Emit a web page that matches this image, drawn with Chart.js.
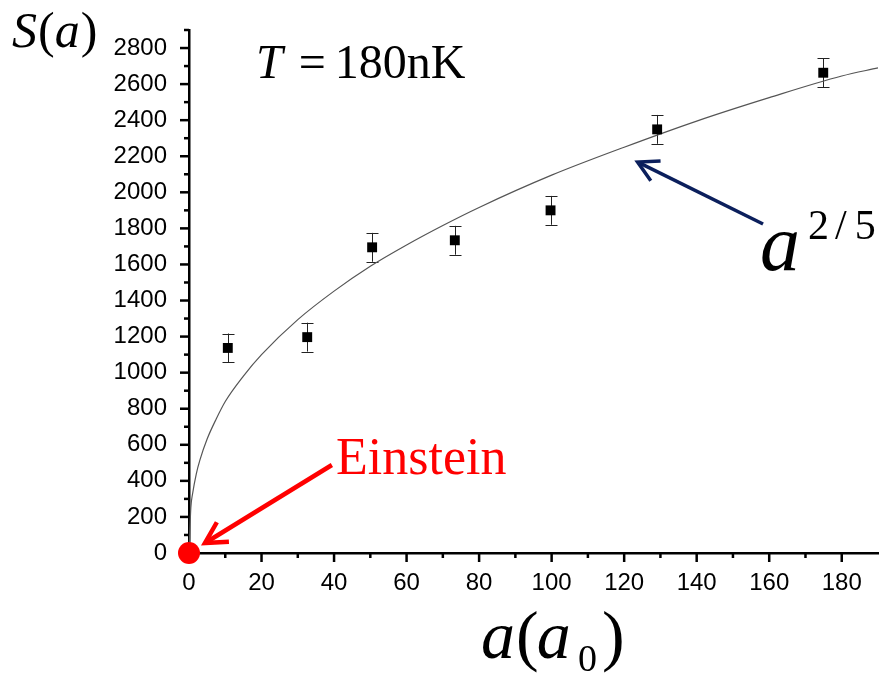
<!DOCTYPE html>
<html>
<head>
<meta charset="utf-8">
<script src="https://cdn.jsdelivr.net/npm/chart.js@4/dist/chart.umd.min.js"></script>
<style>
  html, body { margin: 0; padding: 0; background: #fff; }
  #wrap { width: 881px; height: 673px; }
</style>
</head>
<body>
<div id="wrap"><canvas id="scatteringChart" width="881" height="673"></canvas></div>
<script>
// ============================================================================
// S(a) vs scattering length a (in units of a0), T = 180 nK
// ============================================================================

// Measured points
const scatLength = [10.7, 32.6, 50.5, 73.3, 99.7, 129.1, 174.9];
const entropyS   = [1137, 1197, 1695, 1734, 1900, 2349, 2663];
const entropyErr = [80, 80, 80, 80, 80, 80, 80];

// a^(2/5) curve, read along its length
const curveA = [0, 0.5, 1, 2, 3, 5, 7.5, 10, 15, 20, 30, 40, 50, 60, 70, 80, 100, 120, 140, 160, 180, 190];
const curveS = [0, 250, 330, 438, 515, 632, 743, 840, 981, 1100, 1294, 1452, 1590, 1708, 1816, 1916, 2095, 2250, 2395, 2525, 2645, 2690];

// Einstein (ideal gas) point
const einsteinA = [0];
const einsteinS = [0];

// Axis ticks
const xTickValues = [0, 20, 40, 60, 80, 100, 120, 140, 160, 180];
const yTickValues = [0, 200, 400, 600, 800, 1000, 1200, 1400, 1600, 1800, 2000, 2200, 2400, 2600, 2800];
const X_MAX = 190;
const Y_MAX = 2900;

const SERIF = '"Liberation Serif", "Times New Roman", serif';
const SANS = '"Liberation Sans", Arial, sans-serif';

function toXY(xs, ys) {
    return xs.map((x, i) => ({ x: x, y: ys[i] }));
}

// error bars under the square markers
const errorBars = {
    id: 'errorBars',
    beforeDatasetsDraw(chart) {
        const { ctx, scales: { x, y } } = chart;
        ctx.save();
        ctx.strokeStyle = '#222';
        ctx.lineWidth = 1;
        scatLength.forEach((a, i) => {
            const px = Math.round(x.getPixelForValue(a)) + 0.5;
            const top = y.getPixelForValue(entropyS[i] + entropyErr[i]);
            const bot = y.getPixelForValue(entropyS[i] - entropyErr[i]);
            ctx.beginPath();
            ctx.moveTo(px, top); ctx.lineTo(px, bot);
            ctx.moveTo(px - 6, Math.round(top) + 0.5); ctx.lineTo(px + 6, Math.round(top) + 0.5);
            ctx.moveTo(px - 6, Math.round(bot) + 0.5); ctx.lineTo(px + 6, Math.round(bot) + 0.5);
            ctx.stroke();
        });
        ctx.restore();
    }
};

// outward tick marks, major on labels and minor halfway between
const tickMarks = {
    id: 'tickMarks',
    beforeDatasetsDraw(chart) {
        const { ctx, scales: { x, y } } = chart;
        ctx.save();
        ctx.strokeStyle = '#000';
        ctx.lineWidth = 2.5;
        const yAxis = y.left + y.width;
        yTickValues.forEach(v => {
            const py = y.getPixelForValue(v);
            ctx.beginPath(); ctx.moveTo(yAxis - 9, py); ctx.lineTo(yAxis, py); ctx.stroke();
            const pm = y.getPixelForValue(v + 100);
            ctx.beginPath(); ctx.moveTo(yAxis - 5, pm); ctx.lineTo(yAxis, pm); ctx.stroke();
        });
        const xAxis = x.top;
        xTickValues.forEach(v => {
            const px = x.getPixelForValue(v);
            ctx.beginPath(); ctx.moveTo(px, xAxis); ctx.lineTo(px, xAxis + 9); ctx.stroke();
            if (v + 10 < X_MAX) {
                const pm = x.getPixelForValue(v + 10);
                ctx.beginPath(); ctx.moveTo(pm, xAxis); ctx.lineTo(pm, xAxis + 5); ctx.stroke();
            }
        });
        ctx.restore();
    }
};

function drawArrow(ctx, x0, y0, x1, y1, color, width, head) {
    const ang = Math.atan2(y1 - y0, x1 - x0);
    ctx.save();
    ctx.strokeStyle = color;
    ctx.lineWidth = width;
    ctx.lineCap = 'butt';
    ctx.beginPath();
    ctx.moveTo(x0, y0);
    ctx.lineTo(x1 - Math.cos(ang) * 2, y1 - Math.sin(ang) * 2);
    ctx.stroke();
    ctx.lineJoin = 'miter';
    ctx.beginPath();
    ctx.moveTo(x1 - head * Math.cos(ang - 0.5), y1 - head * Math.sin(ang - 0.5));
    ctx.lineTo(x1, y1);
    ctx.lineTo(x1 - head * Math.cos(ang + 0.5), y1 - head * Math.sin(ang + 0.5));
    ctx.stroke();
    ctx.restore();
}

// text runs: [text, size, italic, dx, dy]
function drawRuns(ctx, x, y, runs, color) {
    ctx.save();
    ctx.fillStyle = color;
    ctx.textBaseline = 'alphabetic';
    ctx.textAlign = 'left';
    let cx = x;
    runs.forEach(([text, size, italic, dx, dy]) => {
        ctx.font = (italic ? 'italic ' : '') + size + 'px ' + SERIF;
        cx += dx || 0;
        ctx.fillText(text, cx, y + (dy || 0));
        cx += ctx.measureText(text).width;
    });
    ctx.restore();
}

const annotations = {
    id: 'annotations',
    afterDatasetsDraw(chart) {
        const { ctx, scales: { x, y } } = chart;

        drawArrow(ctx, x.getPixelForValue(39.4), y.getPixelForValue(488),
                  x.getPixelForValue(4.4), y.getPixelForValue(55), '#ff0000', 4.5, 24);
        drawArrow(ctx, x.getPixelForValue(158.3), y.getPixelForValue(1824),
                  x.getPixelForValue(123.7), y.getPixelForValue(2168), '#0b1f5c', 3.5, 23);

        drawRuns(ctx, 336, 474, [['Einstein', 52, false]], '#ff0000');

        drawRuns(ctx, 256, 78, [['T', 48, true], ['=', 48, false, 16], ['180nK', 48, false, 9]], '#000');

        drawRuns(ctx, 760, 270, [['a', 80, true]], '#000');
        drawRuns(ctx, 808, 239, [['2', 42, false], ['/', 42, false, 6], ['5', 42, false, 8]], '#000');

        drawRuns(ctx, 12, 47, [['S', 50, true], ['(', 50, false, 1], ['a', 50, true], [')', 50, false, 1]], '#000');

        drawRuns(ctx, 481, 658, [['a', 68, true], ['(', 68, false, 1], ['a', 68, true, -2]], '#000');
        drawRuns(ctx, 578, 671, [['0', 38, false], [')', 68, false, 5, -13]], '#000');
    }
};

const chart = new Chart(document.getElementById('scatteringChart').getContext('2d'), {
    type: 'scatter',
    data: {
        datasets: [
            {
                label: 'Einstein',
                data: toXY(einsteinA, einsteinS),
                backgroundColor: '#ff0000',
                borderColor: '#ff0000',
                pointStyle: 'circle',
                pointRadius: 11,
                borderWidth: 0,
                clip: false,
                order: 0
            },
            {
                label: 'S(a)',
                data: toXY(scatLength, entropyS),
                backgroundColor: '#000',
                borderColor: '#000',
                pointStyle: 'rect',
                pointRadius: 7,
                borderWidth: 0,
                order: 1
            },
            {
                label: 'a^(2/5)',
                data: toXY(curveA, curveS),
                showLine: true,
                borderColor: '#555',
                borderWidth: 1.2,
                pointRadius: 0,
                cubicInterpolationMode: 'monotone',
                clip: false,
                order: 2
            }
        ]
    },
    options: {
        responsive: false,
        animation: false,
        devicePixelRatio: 1,
        layout: { autoPadding: false, padding: { left: 0, right: 3, top: 30, bottom: 0 } },
        plugins: {
            legend: { display: false },
            tooltip: { enabled: false }
        },
        scales: {
            x: {
                type: 'linear',
                min: 0,
                max: X_MAX,
                afterBuildTicks: s => { s.ticks = xTickValues.map(v => ({ value: v })); },
                afterFit: s => { s.height = 120; s.paddingLeft = 0; s.paddingRight = 0; },
                grid: { display: true, drawOnChartArea: false, drawTicks: false },
                border: { display: true, color: '#000', width: 2.5 },
                ticks: {
                    padding: 16,
                    color: '#000',
                    font: { family: SANS, size: 24 },
                    maxRotation: 0,
                    callback: v => String(v)
                }
            },
            y: {
                type: 'linear',
                min: 0,
                max: Y_MAX,
                afterBuildTicks: s => { s.ticks = yTickValues.map(v => ({ value: v })); },
                afterFit: s => { s.width = 189; s.paddingTop = 0; s.paddingBottom = 0; },
                grid: { display: true, drawOnChartArea: false, drawTicks: false },
                border: { display: true, color: '#000', width: 2.5 },
                ticks: {
                    padding: 22,
                    color: '#000',
                    font: { family: SANS, size: 24 },
                    callback: v => String(v)
                }
            }
        }
    },
    plugins: [errorBars, tickMarks, annotations]
});
</script>
</body>
</html>
